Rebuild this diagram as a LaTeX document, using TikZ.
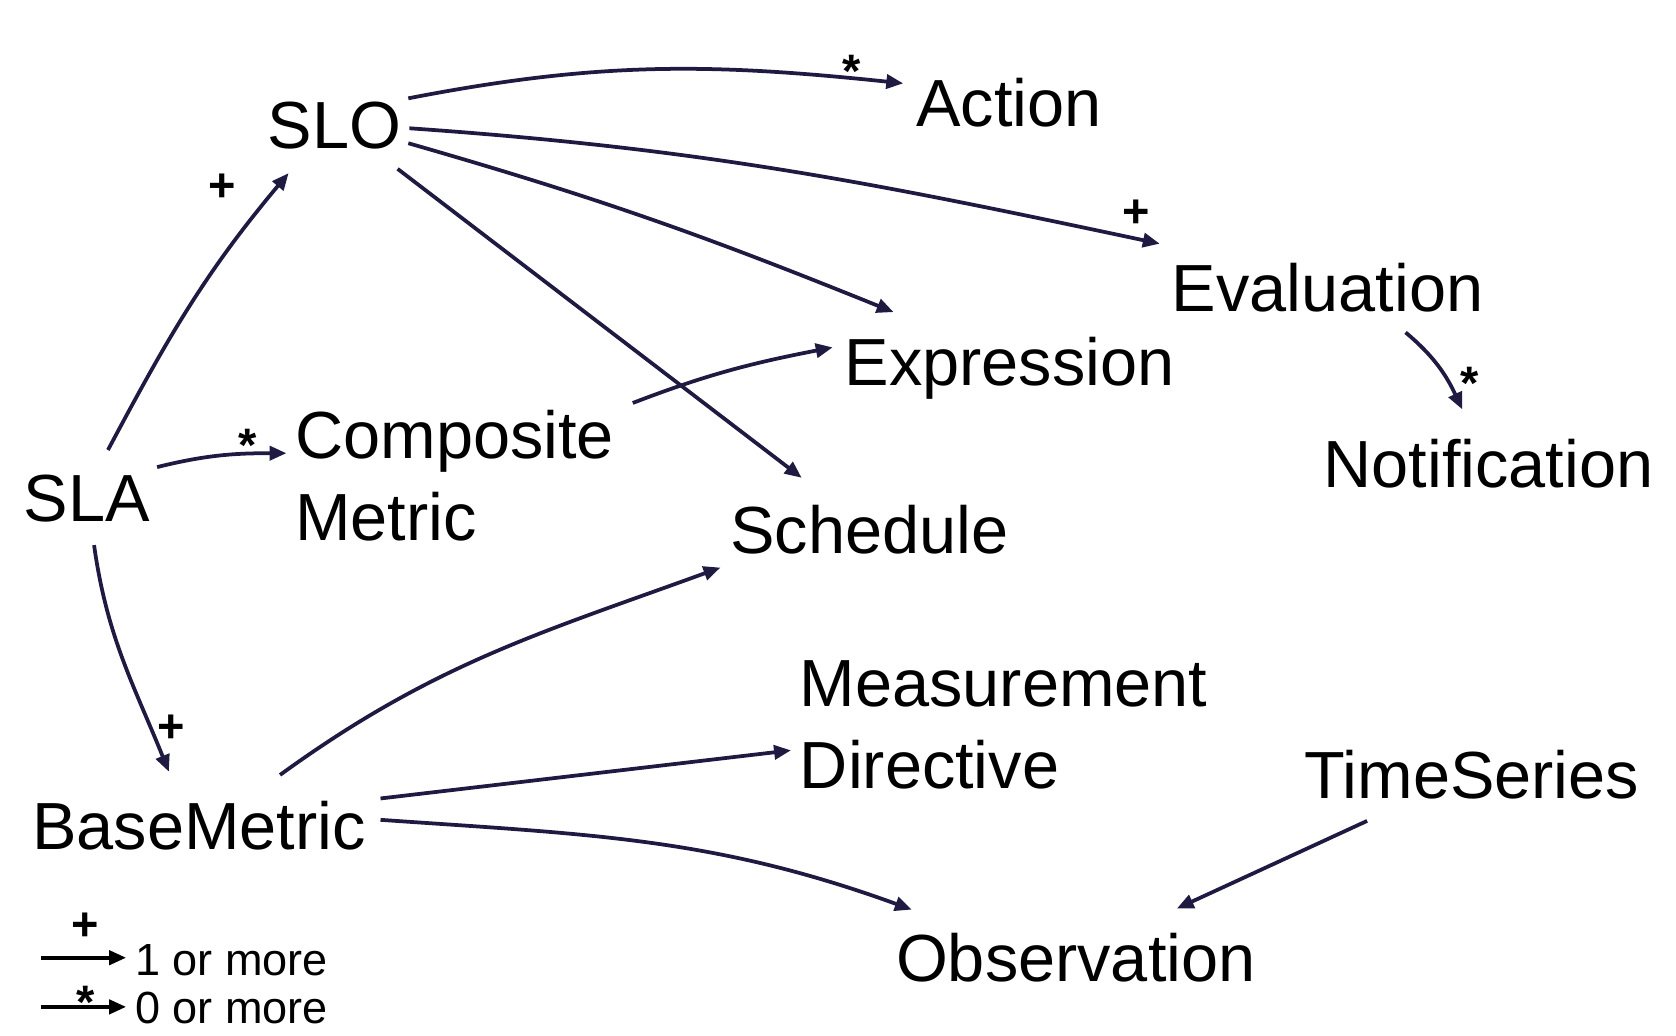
\documentclass[tikz,border=0pt]{standalone}
\usepackage{fontspec}
\setmainfont{Liberation Sans}
\usetikzlibrary{arrows.meta}
\definecolor{navy}{RGB}{30,26,66}
\begin{document}
\begin{tikzpicture}[x=0.02cm,y=-0.02cm,
  cls/.style={inner sep=0pt, anchor=base west, font=\fontsize{35.5}{44}\selectfont, align=left},
  leg/.style={inner sep=0pt, anchor=base west, font=\fontsize{24}{28}\selectfont},
  conn/.style={draw=navy, line width=2pt, -{Triangle[length=9pt,width=7.5pt]}},
  legarrow/.style={draw=black, line width=2pt, -{Triangle[length=9pt,width=7.5pt]}},
  mult/.style={inner sep=0pt, font=\fontsize{25}{30}\selectfont\bfseries}]
\useasboundingbox (0,0) rectangle (1568,969);

% classes
\node[cls] (SLO) at (250,139) {SLO};
\node[cls] (Action) at (857,118) {Action};
\node[cls] (Eval) at (1096,291) {Evaluation};
\node[cls] (Expr) at (790,361) {Expression};
\node[cls] (Comp) at (276,506) {Composite\\Metric};
\node[cls] (SLA) at (22,488) {SLA};
\node[cls] (Notif) at (1238,456) {Notification};
\node[cls] (Sched) at (683,518) {Schedule};
\node[cls] (MD) at (748,738) {Measurement\\Directive};
\node[cls] (TS) at (1220,747) {TimeSeries};
\node[cls] (BM) at (30,795) {BaseMetric};
\node[cls] (Obs) at (838,918) {Observation};

% connectors
\draw[conn] ([shift={(132,-47)}]SLO.base west) to[out=11,in=174] ([shift={(-12,-40)}]Action.base west);
\draw[conn] ([shift={(133,-19)}]SLO.base west) to[out=-4,in=168] ([shift={(-11,-63)}]Eval.base west);
\draw[conn] ([shift={(132,-5)}]SLO.base west) to[out=-16,in=158] ([shift={(46,-69)}]Expr.base west);
\draw[conn] ([shift={(122,19)}]SLO.base west) -- ([shift={(67,-71)}]Sched.base west);
\draw[conn] ([shift={(79,-67)}]SLA.base west) to[out=62,in=230] ([shift={(20,23)}]SLO.base west);
\draw[conn] ([shift={(125,-51)}]SLA.base west) to[out=14,in=180] ([shift={(-8,-82)}]Comp.base west);
\draw[conn] ([shift={(316,-129)}]Comp.base west) to[out=21,in=191] ([shift={(-11,-36)}]Expr.base west);
\draw[conn] ([shift={(66,22)}]SLA.base west) to[out=-82,in=112] ([shift={(128,-73)}]BM.base west);
\draw[conn] ([shift={(232,-70)}]BM.base west) to[out=36,in=200] ([shift={(-9,13)}]Sched.base west);
\draw[conn] ([shift={(326,-48)}]BM.base west) -- ([shift={(-8,-36)}]MD.base west);
\draw[conn] ([shift={(326,-28)}]BM.base west) to[out=-4,in=160] ([shift={(15,-67)}]Obs.base west);
\draw[conn] ([shift={(59,21)}]TS.base west) -- ([shift={(263,-68)}]Obs.base west);
\draw[conn] ([shift={(219,20)}]Eval.base west) to[out=-40,in=115] ([shift={(130,-73)}]Notif.base west);

% multiplicities
\node[mult] (mA) at (797,67) {*};
\node[mult] (mE) at (1063,200) {+};
\node[mult] (mS) at (208,176) {+};
\node[mult] (mC) at (232,417) {*};
\node[mult] (mB) at (160,682) {+};
\node[mult] (mN) at (1375,359) {*};

% legend
\node[leg] (L1) at (126,913) {1 or more};
\node[leg] (L0) at (126,958) {0 or more};
\coordinate (l1s) at (38,896);
\coordinate (l0s) at (38,942);
\draw[legarrow] (l1s) -- ([shift={(-8,-17)}]L1.base west);
\draw[legarrow] (l0s) -- ([shift={(-8,-16)}]L0.base west);
\node[mult] (mL1) at (80,867) {+};
\node[mult] (mL0) at (80,938) {*};
\end{tikzpicture}
\end{document}
